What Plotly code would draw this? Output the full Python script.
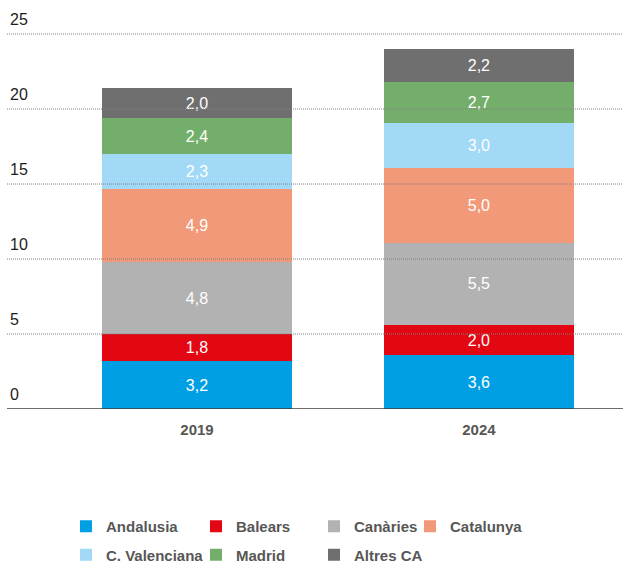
import plotly.graph_objects as go

years = ["2019", "2024"]
regions = ["Andalusia", "Balears", "Canàries", "Catalunya",
           "C. Valenciana", "Madrid", "Altres CA"]
values = {
    "Andalusia": [3.2, 3.6],
    "Balears": [1.8, 2.0],
    "Canàries": [4.8, 5.5],
    "Catalunya": [4.9, 5.0],
    "C. Valenciana": [2.3, 3.0],
    "Madrid": [2.4, 2.7],
    "Altres CA": [2.0, 2.2],
}
y_ticks = [0, 5, 10, 15, 20, 25]

colors = {
    "Andalusia": "#009fe3",
    "Balears": "#e30613",
    "Canàries": "#b2b2b2",
    "Catalunya": "#f2997a",
    "C. Valenciana": "#a1d9f7",
    "Madrid": "#73af6b",
    "Altres CA": "#6f6f6f",
}
# legend column each region sits in (4 columns, 2 rows)
legend_col = {
    "Andalusia": "legend", "C. Valenciana": "legend",
    "Balears": "legend2", "Madrid": "legend2",
    "Canàries": "legend3", "Altres CA": "legend3",
    "Catalunya": "legend4",
}

FONT = "Liberation Sans, Arial, sans-serif"

fig = go.Figure()
for name in regions:
    fig.add_trace(go.Bar(
        x=years,
        y=values[name],
        name=name,
        width=0.674,
        marker=dict(color=colors[name], line=dict(width=0)),
        text=[f"{v:.1f}".replace(".", ",") for v in values[name]],
        textposition="inside",
        insidetextanchor="middle",
        textfont=dict(color="#ffffff", size=16, family=FONT),
        legend=legend_col[name],
        legendgroup=name,
        hoverinfo="skip",
    ))

# dotted grid drawn above the bars
for v in y_ticks[1:]:
    fig.add_hline(y=v, line=dict(color="#808080", width=1, dash="1px,1px"), layer="above")
fig.add_hline(y=0, line=dict(color="#3c3c3b", width=1.5), layer="above")

legend_style = dict(
    orientation="v",
    xref="container", yref="container",
    xanchor="left", yanchor="top",
    font=dict(family=FONT, size=15, color="#575756", weight="bold"),
    tracegroupgap=6,
    bgcolor="rgba(0,0,0,0)",
)
col_x = [66, 196, 314, 410]
leg_top = 1 - 510 / 565
fig.update_layout(
    barmode="stack",
    width=623, height=565,
    margin=dict(l=7, r=0, t=0, b=156, autoexpand=False),
    paper_bgcolor="white",
    plot_bgcolor="white",
    font=dict(family=FONT),
    showlegend=True,
    xaxis=dict(
        type="category",
        range=[-0.674, 1.511],
        showgrid=False, showline=False, zeroline=False,
        ticks="",
        ticklabelstandoff=10,
        tickfont=dict(family=FONT, size=15, color="#575756", weight="bold"),
    ),
    yaxis=dict(
        range=[0, 27.27],
        tickvals=y_ticks,
        ticktext=[str(t) for t in y_ticks],
        ticklabelposition="inside top",
        ticklabelshift=-3,
        showgrid=False, zeroline=False, showline=False,
        ticks="",
        tickfont=dict(family=FONT, size=16, color="#1d1d1b"),
    ),
    legend=dict(x=col_x[0] / 623, y=leg_top, **legend_style),
    legend2=dict(x=col_x[1] / 623, y=leg_top, **legend_style),
    legend3=dict(x=col_x[2] / 623, y=leg_top, **legend_style),
    legend4=dict(x=col_x[3] / 623, y=leg_top, **legend_style),
)

# drop the browser's default 8px body margin so the figure sits at the page corner
fig.write_html("out.html", config={"displayModeBar": False},
               post_script="document.body.style.margin = '0';")
